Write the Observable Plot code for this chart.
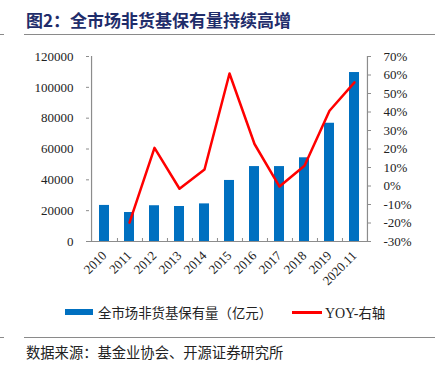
<!DOCTYPE html>
<html><head><meta charset="utf-8">
<script src="https://cdn.jsdelivr.net/npm/d3@7"></script>
<script src="https://cdn.jsdelivr.net/npm/@observablehq/plot@0.6"></script>
<style>
body{margin:0;background:#fff;}
#wrap{position:relative;width:443px;height:370px;overflow:hidden;background:#fff;font-family:"Noto Sans CJK SC",sans-serif;color:#222;}
#title{position:absolute;left:26px;top:9px;font-size:17px;line-height:22px;font-weight:bold;color:#1F2D6B;white-space:nowrap;}
.hr{position:absolute;height:1.5px;background:#8a8a8a;}
#chart{position:absolute;left:0;top:40px;}
#legend{position:absolute;left:0;top:302px;width:443px;height:20px;font-size:13.4px;line-height:20px;white-space:nowrap;}
.sw{position:absolute;}
.lt{position:absolute;top:0;}
#source{position:absolute;left:26px;top:341px;font-size:14.3px;line-height:22px;white-space:nowrap;color:#222;}
</style></head><body>
<div id="wrap">
  <div id="title">图2：全市场非货基保有量持续高增</div>
  <div class="hr" style="left:24px;width:411px;top:33.5px"></div>
  <div class="hr" style="left:0;width:4px;top:33.5px"></div>
  <div id="chart"></div>
  <div id="legend">
    <div class="sw" style="left:65px;top:7px;width:28px;height:6px;background:#0070C0"></div>
    <div class="lt" style="left:98px">全市场非货基保有量（亿元）</div>
    <div class="sw" style="left:292px;top:9px;width:30px;height:2.5px;background:#FF0000"></div>
    <div class="lt" style="left:325px"><span style="font-family:'Liberation Serif',serif;font-size:14px">YOY-</span>右轴</div>
  </div>
  <div class="hr" style="left:24px;width:411px;top:336.5px"></div>
  <div class="hr" style="left:0;width:4px;top:336.5px"></div>
  <div id="source">数据来源：基金业协会、开源证券研究所</div>
</div>
<script>
const categories = ["2010","2011","2012","2013","2014","2015","2016","2017","2018","2019","2020.11"];
const holdings = [23400,18800,23200,22700,24400,39600,48600,48600,54300,76700,109600];
const yoy = [null,-19.8,20.6,-1.5,8.9,60.8,22.7,-0.3,10.9,40.7,56.0];
const leftTicks = [0,20000,40000,60000,80000,100000,120000];
const rightTicks = [-30,-20,-10,0,10,20,30,40,50,60,70];

const W = 443, H = 260, mL = 86, mR = 72, mT = 16, mB = 59;
const plotW = W - mL - mR, plotH = H - mT - mB;
const step = plotW / categories.length;
const toLeft = p => (p + 30) / 100 * 120000;
const table = categories.map((c, i) => ({cat: c, v: holdings[i], yoy: yoy[i]}));
const lineData = table.filter(d => d.yoy != null);
const axisColor = "#8c8c8c";

const chart = Plot.plot({
  width: W, height: H,
  marginLeft: mL, marginRight: mR, marginTop: mT, marginBottom: mB,
  style: {fontFamily: "'Liberation Serif','Times New Roman',serif", fontSize: "13px", color: "#222", background: "#fff", overflow: "visible"},
  x: {domain: categories, paddingInner: 0.6, paddingOuter: 0.3, axis: null, label: null},
  y: {domain: [0, 120000], axis: null, label: null},
  marks: [
    Plot.barY(table, {x: "cat", y: "v", fill: "#0070C0"}),
    Plot.lineY(lineData, {x: "cat", y: d => toLeft(d.yoy), stroke: "#FF0000", strokeWidth: 2.5}),
    Plot.ruleY([0], {stroke: axisColor, strokeWidth: 1.2}),
    Plot.ruleX([categories[0]], {dx: -step / 2, stroke: axisColor, strokeWidth: 1.2}),
    Plot.ruleX([categories[categories.length - 1]], {dx: step / 2, stroke: axisColor, strokeWidth: 1.2}),
    Plot.ruleY(leftTicks, {y: d => d, stroke: axisColor, insetRight: plotW - 3}),
    Plot.ruleY(rightTicks.map(toLeft), {y: d => d, stroke: axisColor, insetLeft: plotW - 3}),
    Plot.ruleX(categories.slice(0, -1), {x: d => d, dx: step / 2, stroke: axisColor, insetTop: plotH - 3}),
    Plot.axisY(leftTicks, {anchor: "left", label: null, tickSize: 0, tickPadding: 13, tickFormat: d => String(d)}),
    Plot.axisY(rightTicks.map(toLeft), {anchor: "right", label: null, tickSize: 0, tickPadding: 12, tickFormat: d => Math.round(d / 1200 - 30) + "%"}),
    Plot.axisX({label: null, tickRotate: -45, tickSize: 0, tickPadding: 12, dx: 0})
  ]
});
document.getElementById("chart").appendChild(chart);
</script>
</body></html>
